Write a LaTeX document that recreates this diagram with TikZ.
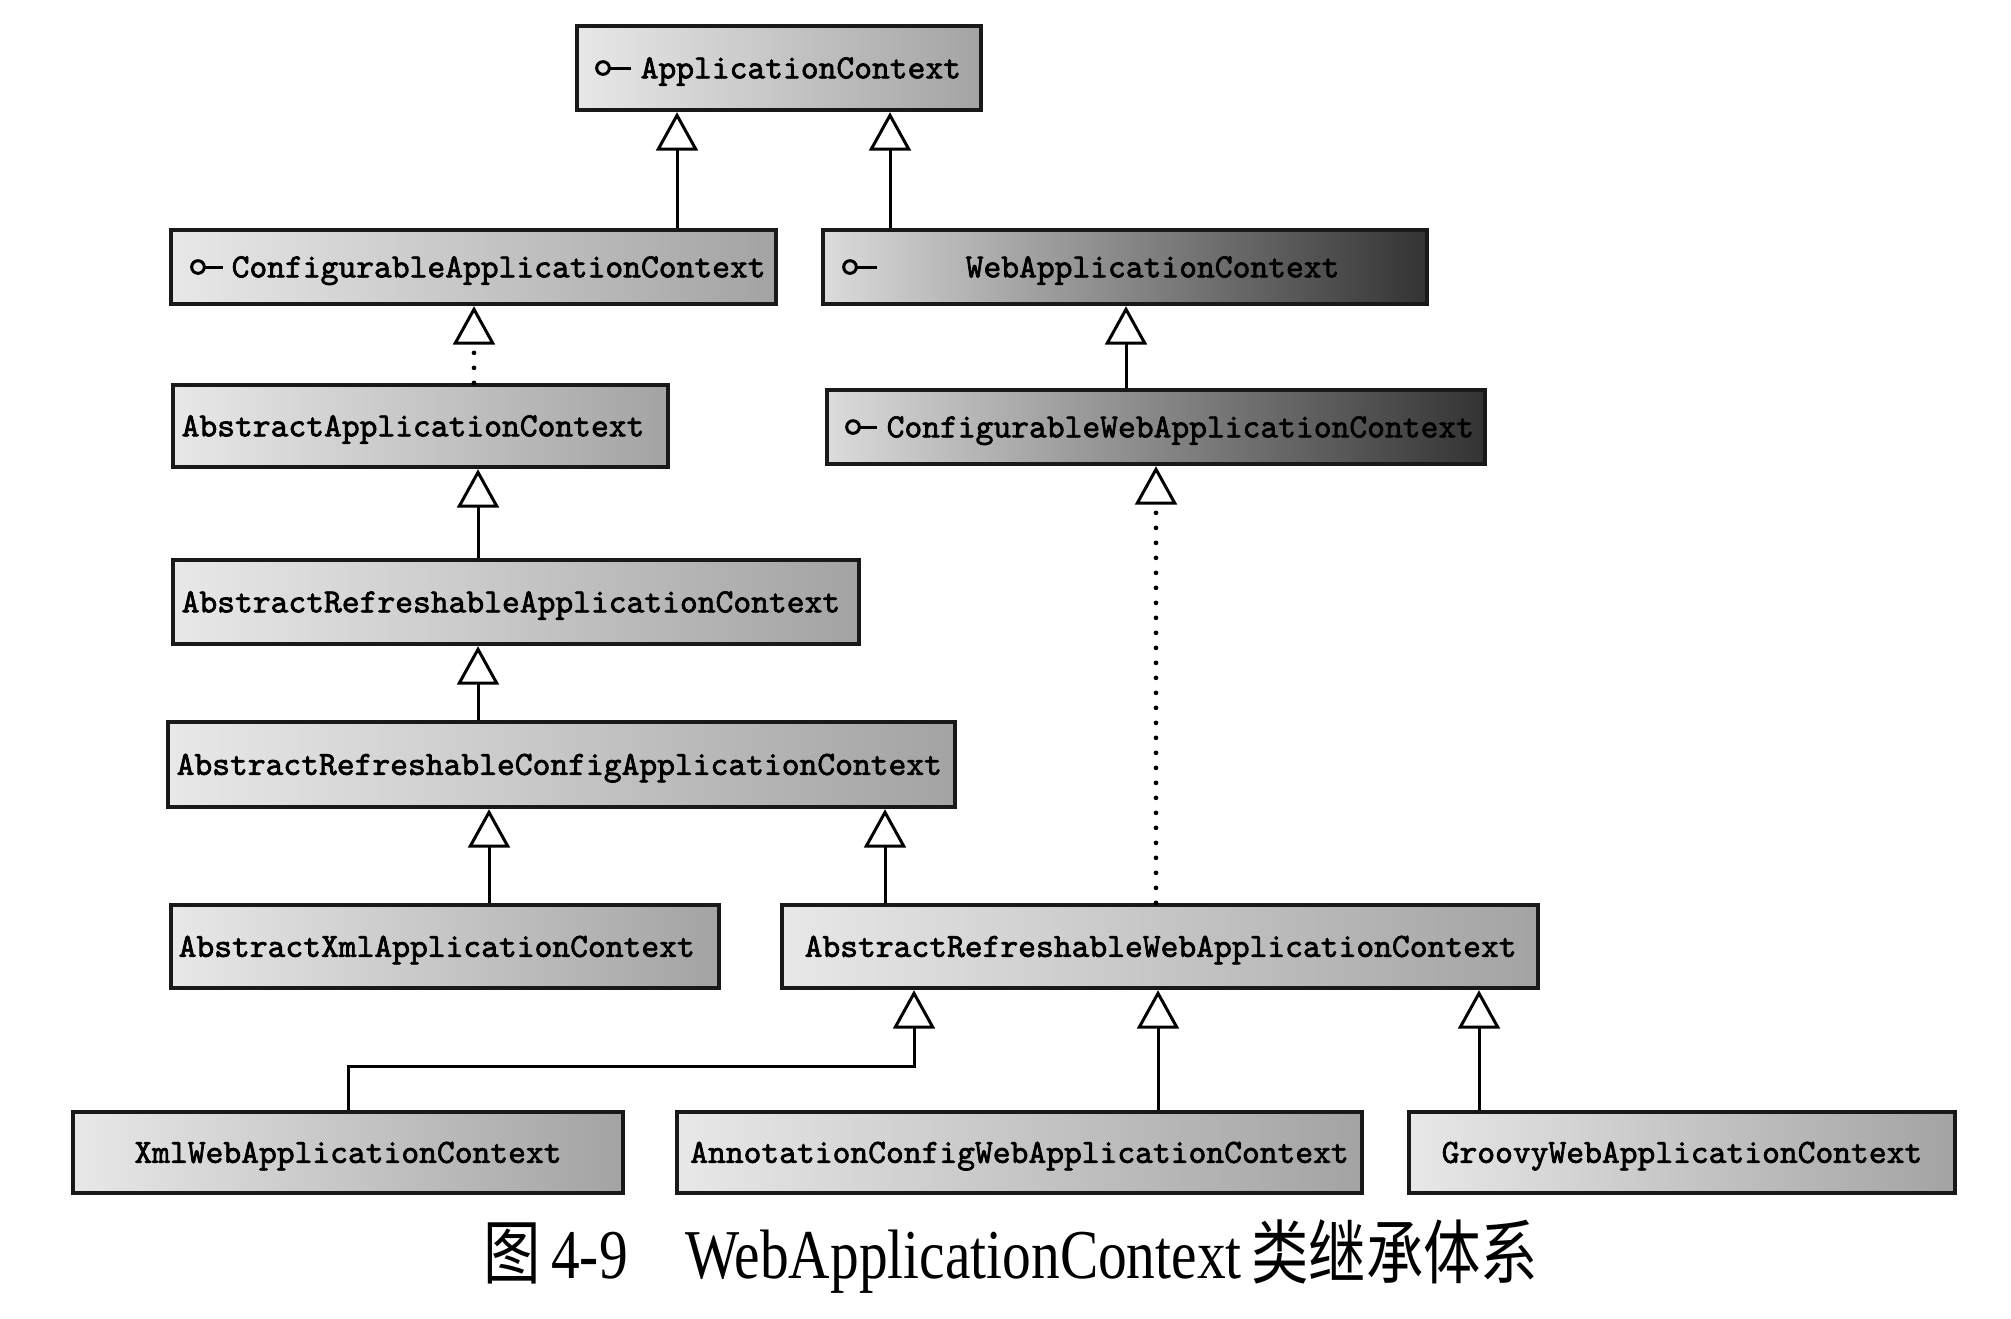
\documentclass[tikz,border=0pt]{standalone}
\usepackage{fontspec}
\usepackage{graphicx}
\usetikzlibrary{arrows.meta}
\newfontfamily\cjkfont{Noto Sans CJK SC}
\newfontfamily\capserif{Liberation Serif}
\newfontfamily\boxfont{lmmono10-regular}[Extension=.otf, FakeBold=2]
\tikzset{
  box/.style={draw=black!90, line width=1.3pt, inner sep=0pt, left color=black!9, right color=black!36},
  darkbox/.style={box, left color=black!14, right color=black!80},
  lbl/.style={inner sep=0pt, font=\fontsize{10.17}{12}\selectfont\boxfont, text height=6.2pt, text depth=0pt},
  iface/.style={line width=0.9pt},
  inh/.style={line width=0.9pt, -{Triangle[open, length=11.5pt, width=12.5pt, line width=0.9pt]}},
  realize/.style={inh, line cap=round, dash pattern=on 0pt off 4.5pt, line width=1.4pt},
  captext/.style={inner sep=0pt, font=\fontsize{21}{25}\selectfont\capserif}
}
\begin{document}
\begin{tikzpicture}[x=0.3pt,y=-0.3pt]
\useasboundingbox (0,0) rectangle (2011,1318);
\fill[white] (0,0) rectangle (2011,1318);

% boxes
\node[box, minimum width=121.2pt, minimum height=25.2pt] (ac) at (779,68) {};
\node[box, minimum width=181.5pt, minimum height=22.2pt] (cac) at (473.5,267) {};
\node[darkbox, minimum width=181.2pt, minimum height=22.2pt] (wac) at (1125,267) {};
\node[box, minimum width=148.5pt, minimum height=24.6pt] (aac) at (420.5,426) {};
\node[darkbox, minimum width=197.4pt, minimum height=22.2pt] (cwac) at (1156,427) {};
\node[box, minimum width=205.8pt, minimum height=25.2pt] (arac) at (516,602) {};
\node[box, minimum width=236.1pt, minimum height=25.5pt] (arcac) at (561.5,764.5) {};
\node[box, minimum width=164.4pt, minimum height=24.9pt] (axac) at (445,946.5) {};
\node[box, minimum width=226.8pt, minimum height=24.9pt] (arwac) at (1160,946.5) {};
\node[box, minimum width=165pt, minimum height=24.3pt] (xwac) at (348,1152.5) {};
\node[box, minimum width=205.5pt, minimum height=24.3pt] (acwac) at (1019.5,1152.5) {};
\node[box, minimum width=163.8pt, minimum height=24.3pt] (gwac) at (1682,1152.5) {};

% labels
\node[lbl, anchor=west] (tac) at (640,0 |- ac.center) {ApplicationContext};
\node[lbl, anchor=west] (tcac) at (231,0 |- cac.center) {ConfigurableApplicationContext};
\node[lbl, anchor=west] (twac) at (965,0 |- wac.center) {WebApplicationContext};
\node[lbl, anchor=west] (taac) at (181,0 |- aac.center) {AbstractApplicationContext};
\node[lbl, anchor=west] (tcwac) at (886,0 |- cwac.center) {ConfigurableWebApplicationContext};
\node[lbl, anchor=west] (tarac) at (181,0 |- arac.center) {AbstractRefreshableApplicationContext};
\node[lbl, anchor=west] (tarcac) at (176,0 |- arcac.center) {AbstractRefreshableConfigApplicationContext};
\node[lbl, anchor=west] (taxac) at (178,0 |- axac.center) {AbstractXmlApplicationContext};
\node[lbl, anchor=west] (tarwac) at (804,0 |- arwac.center) {AbstractRefreshableWebApplicationContext};
\node[lbl] (txwac) at (xwac.center) {XmlWebApplicationContext};
\node[lbl] (tacwac) at (acwac.center) {AnnotationConfigWebApplicationContext};
\node[lbl] (tgwac) at (gwac.center) {GroovyWebApplicationContext};

% interface icons
\draw[iface] (603,0 |- ac.center) circle[radius=1.9pt];
\draw[iface] (609.5,0 |- ac.center) -- (631,0 |- ac.center);
\draw[iface] (198,0 |- cac.center) circle[radius=1.9pt];
\draw[iface] (204.5,0 |- cac.center) -- (223,0 |- cac.center);
\draw[iface] (850,0 |- wac.center) circle[radius=1.9pt];
\draw[iface] (856.5,0 |- wac.center) -- (877,0 |- wac.center);
\draw[iface] (853,0 |- cwac.center) circle[radius=1.9pt];
\draw[iface] (859.5,0 |- cwac.center) -- (877,0 |- cwac.center);

% connectors
\draw[inh] (677,0 |- cac.north) -- (677,0 |- ac.south);
\draw[inh] (890,0 |- wac.north) -- (890,0 |- ac.south);
\draw[realize] (474,0 |- aac.north) -- (474,0 |- cac.south);
\draw[inh] (1126,0 |- cwac.north) -- (1126,0 |- wac.south);
\draw[inh] (478,0 |- arac.north) -- (478,0 |- aac.south);
\draw[inh] (478,0 |- arcac.north) -- (478,0 |- arac.south);
\draw[inh] (489,0 |- axac.north) -- (489,0 |- arcac.south);
\draw[inh] (885,0 |- arwac.north) -- (885,0 |- arcac.south);
\draw[realize] (1156,0 |- arwac.north) -- (1156,0 |- cwac.south);
\draw[inh] (xwac.north) |- (914,1066) -- (914,0 |- arwac.south);
\draw[inh] (1158,0 |- acwac.north) -- (1158,0 |- arwac.south);
\draw[inh] (1479,0 |- gwac.north) -- (1479,0 |- arwac.south);

% caption
\node[captext] (cap) at (1011,1256) {\scalebox{0.82}[1]{{\cjkfont 图}\hspace{3.7pt}4-9\hspace{21pt}WebApplicationContext\hspace{3.5pt}{\cjkfont 类继承体系}}};
\end{tikzpicture}
\end{document}
